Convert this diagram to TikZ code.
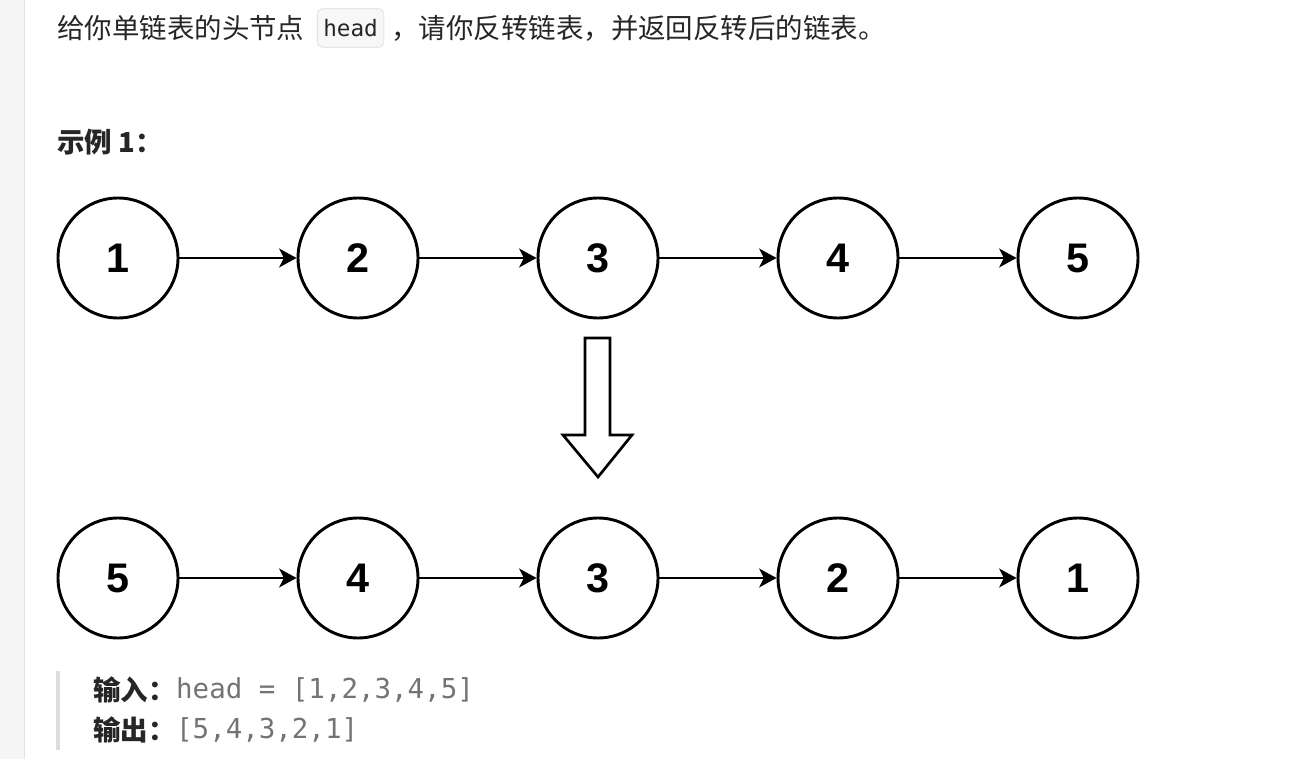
\documentclass[tikz,border=0pt]{standalone}
\usepackage{fontspec}
\setmainfont{Noto Sans CJK SC}
\newfontfamily\codefont{DejaVu Sans Mono}
\newfontfamily\numfont{Liberation Sans}
\usetikzlibrary{arrows.meta,positioning}
\definecolor{txt}{HTML}{262626}
\definecolor{codegray}{HTML}{737373}
\definecolor{panel}{HTML}{F5F5F5}
\definecolor{panelline}{HTML}{E2E2E2}
\definecolor{quoteline}{HTML}{DDDDDD}
\definecolor{codebg}{HTML}{F7F7F7}
\definecolor{codeline}{HTML}{E6E6E6}
\begin{document}
\begin{tikzpicture}[x=0.75pt,y=-0.75pt,
  listnode/.style={circle,draw,line width=2.2pt,minimum size=90pt,inner sep=0pt,
    font=\numfont\bfseries\fontsize{31}{31}\selectfont},
  link/.style={-{Stealth[length=13pt,width=14pt,inset=3.5pt]},line width=2.2pt},
  body/.style={font=\fontsize{20.6}{24}\selectfont,text=txt,inner sep=0pt},
  code/.style={font=\codefont\fontsize{20.6}{24}\selectfont,text=codegray,inner sep=0pt}]
\useasboundingbox (0,0) rectangle (1293,759);
% page panel
\fill[panel] (0,0) rectangle (24,759);
\draw[panelline,line width=1pt] (24.5,0) -- (24.5,759);
% statement
\node[body,anchor=west] (intro) at (57,28) {给你单链表的头节点};
\node[right=9pt of intro,rounded corners=4pt,draw=codeline,fill=codebg,line width=0.8pt,
  font=\codefont\fontsize{17}{20}\selectfont,text=txt,inner xsep=4.5pt,minimum height=29pt] (headbox) {head};
\node[body,anchor=west,right=5pt of headbox] (rest) {，请你反转链表，并返回反转后的链表。};
\node[body,font=\bfseries\fontsize{20.6}{24}\selectfont,anchor=west] (example) at (57,142) {示例 1：};
% lists
\begin{scope}
\clip (0,0) rectangle (1139.5,759);
\foreach \v [count=\i] in {1,...,5}
  \node[listnode] (t\i) at ({118+240*(\i-1)},258) {\v};
\foreach \v [count=\i] in {5,4,3,2,1}
  \node[listnode] (b\i) at ({118+240*(\i-1)},578) {\v};
\foreach \i [evaluate=\i as \j using int(\i+1)] in {1,...,4}{
  \draw[link] (t\i) -- (t\j);
  \draw[link] (b\i) -- (b\j);
}
\end{scope}
% hollow arrow
\draw[line width=2pt,line join=miter] (585,338) -- (610,338) -- (610,435) -- (632,435)
  -- (598,477) -- (563,435) -- (585,435) -- cycle;
% input / output
\fill[quoteline] (56,671) rectangle (60,750);
\node[body,font=\bfseries\fontsize{20.6}{24}\selectfont,anchor=west] (inlabel) at (93,690) {输入：};
\node[code,anchor=west] (inval) at (inlabel.east) {head = [1,2,3,4,5]};
\node[body,font=\bfseries\fontsize{20.6}{24}\selectfont,anchor=west] (outlabel) at (93,730) {输出：};
\node[code,anchor=west] (outval) at (outlabel.east) {[5,4,3,2,1]};
\end{tikzpicture}
\end{document}
